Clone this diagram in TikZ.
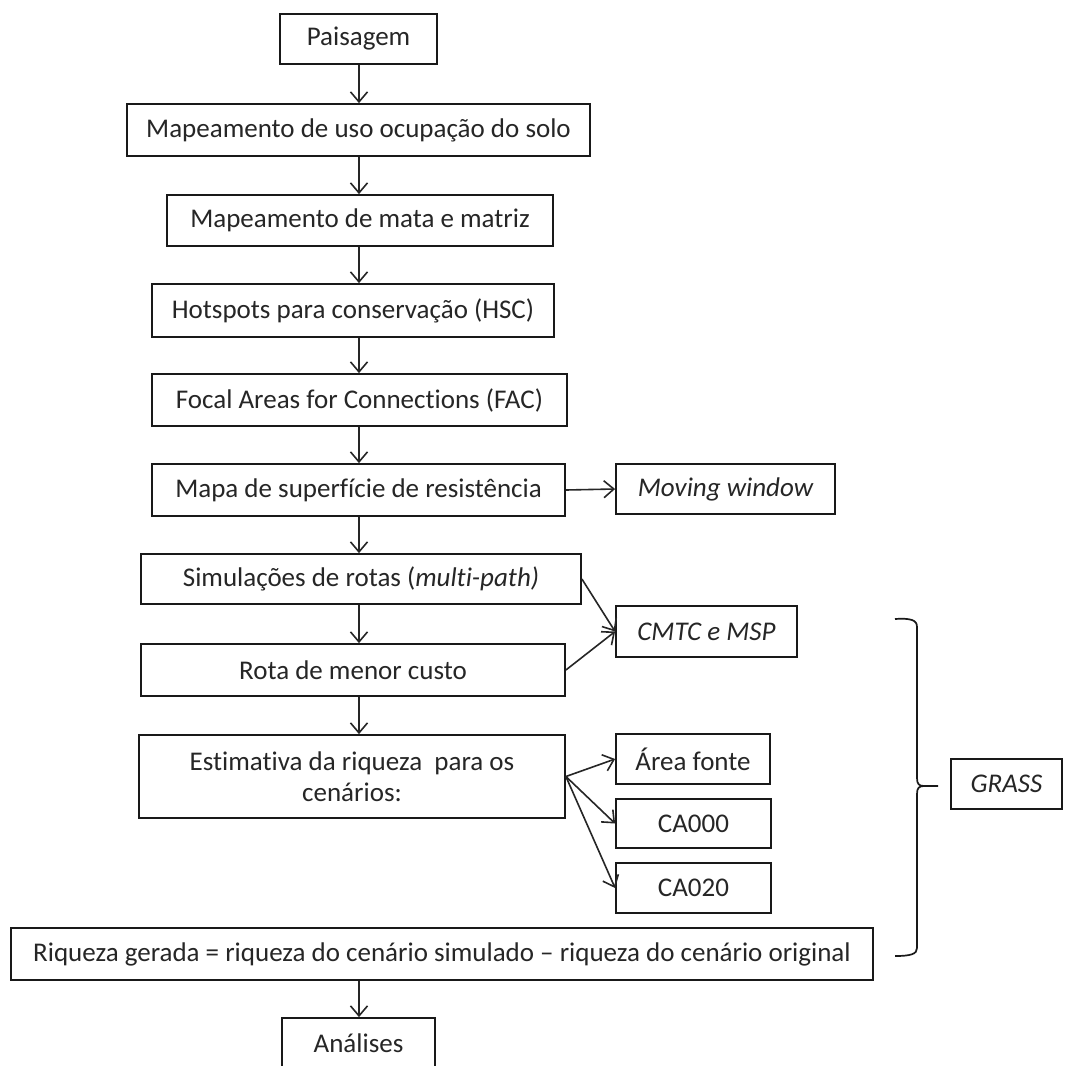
\documentclass[tikz,border=0pt]{standalone}
\usepackage{fontspec}
\setmainfont{Carlito}[Ligatures={NoCommon}]
\usetikzlibrary{arrows.meta,calc}
\begin{document}
\begin{tikzpicture}[x=1pt,y=-1pt,
  box/.style={draw=black!90,line width=1.8pt,inner sep=0pt,align=center,text=black!85,
    font=\fontsize{27}{31}\selectfont},
  arr/.style={draw=black!85,line width=1.6pt,-{Straight Barb[length=10pt,width=17pt,line width=1.6pt]}},
  brace/.style={draw=black!90,line width=1.7pt}]
\useasboundingbox (0,0) rectangle (1065,1066);
\fill[white] (0,0) rectangle (1065,1066);
% main column
\node[box,minimum width=157pt,minimum height=50pt] (pais) at (358.5,39) {Paisagem};
\node[box,minimum width=463pt,minimum height=52pt] (uso) at (358.5,130) {Mapeamento de uso ocupação do solo};
\node[box,minimum width=386pt,minimum height=51pt] (mata) at (360,220.5) {Mapeamento de mata e matriz};
\node[box,minimum width=402pt,minimum height=53pt] (hsc) at (353,310.5) {Hotspots para conservação (HSC)};
\node[box,minimum width=415pt,minimum height=52pt] (fac) at (359.5,400) {Focal Areas for Connections (FAC)};
\node[box,minimum width=413pt,minimum height=52pt] (mapa) at (358.5,490) {Mapa de superfície de resistência};
\node[box,minimum width=219pt,minimum height=50pt] (mw) at (725.5,489) {\itshape Moving window};
\node[box,minimum width=440pt,minimum height=50pt] (sim) at (361,579) {Simulações de rotas (\textit{multi-path)}};
\node[box,minimum width=424pt,minimum height=52pt] (rota) at (353,670) {Rota de menor custo};
\node[box,minimum width=181pt,minimum height=51pt] (cmtc) at (706.5,631.5) {\itshape CMTC e MSP};
\node[box,minimum width=426pt,minimum height=83pt] (est) at (352,776.5) {Estimativa da riqueza\ \ para os\\cenários:};
\node[box,minimum width=154pt,minimum height=50pt] (area) at (693,759) {Área fonte};
\node[box,minimum width=155pt,minimum height=49pt] (ca0) at (693.5,823.5) {CA000};
\node[box,minimum width=155pt,minimum height=50pt] (ca2) at (693.5,888) {CA020};
\node[box,minimum width=111pt,minimum height=50pt] (grass) at (1006.5,784) {\itshape GRASS};
\node[box,minimum width=862pt,minimum height=52pt] (riq) at (442,954) {Riqueza gerada = riqueza do cenário simulado -- riqueza do cenário original};
\node[box,minimum width=153pt,minimum height=50pt] (anal) at (358.5,1043) {Análises};
% vertical arrows at a common x
\coordinate (ax) at (359,0);
\draw[arr] (pais.south -| ax) -- (uso.north -| ax);
\draw[arr] (uso.south -| ax) -- (mata.north -| ax);
\draw[arr] (mata.south -| ax) -- (hsc.north -| ax);
\draw[arr] (hsc.south -| ax) -- (fac.north -| ax);
\draw[arr] (fac.south -| ax) -- (mapa.north -| ax);
\draw[arr] (mapa.south -| ax) -- (sim.north -| ax);
\draw[arr] (sim.south -| ax) -- (rota.north -| ax);
\draw[arr] (rota.south -| ax) -- (est.north -| ax);
\draw[arr] (riq.south -| ax) -- (anal.north -| ax);
% side arrows
\draw[arr] (mapa.east) -- (mw.west);
\draw[arr] (sim.east) -- (cmtc.west);
\draw[arr] (rota.east) -- (cmtc.west);
\draw[arr] (est.east) -- (area.west);
\draw[arr] (est.east) -- (ca0.west);
\draw[arr] (est.east) -- (ca2.west);
% brace
\coordinate (btop) at (895,619);
\coordinate (bbot) at (895,956);
\coordinate (btip) at (938,786);
\draw[brace] (btop) .. controls (911,618) and (917,620) .. (917,627)
  -- (917,778) .. controls (917,784) and (919,786) .. (924,786) -- (btip);
\draw[brace] (924,786) .. controls (919,786) and (917,788) .. (917,794)
  -- (917,948) .. controls (917,954) and (911,956) .. (bbot);
\end{tikzpicture}
\end{document}
